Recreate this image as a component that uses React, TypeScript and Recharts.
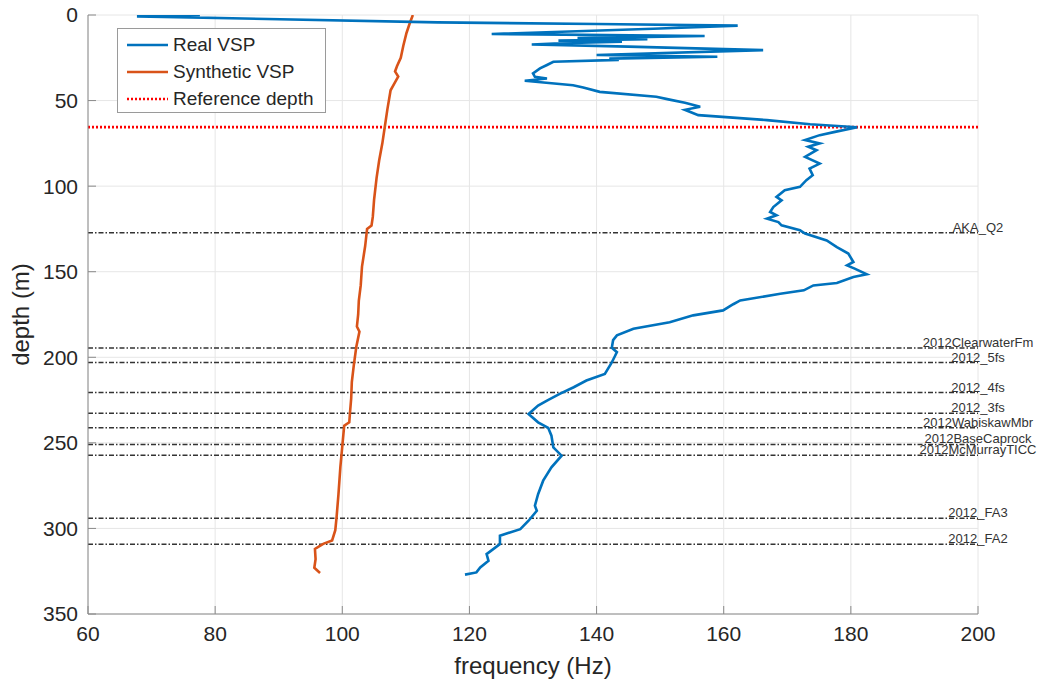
import React from "react";
import { ComposedChart, Scatter, XAxis, YAxis, CartesianGrid, ReferenceLine, Label } from "recharts";

const FONT = '"Liberation Sans", Arial, Helvetica, sans-serif';
const BLUE = "#0072bd";
const ORANGE = "#d95319";
const AXIS = "#8a8a8a";
const TEXT = "#262626";

const freqTicks = [60, 80, 100, 120, 140, 160, 180, 200];
const depthTicks = [0, 50, 100, 150, 200, 250, 300, 350];

// measured VSP dominant frequency vs depth
const realDepth = [
  0, 0.8, 4.3, 5.3, 6.2, 8.0, 11.1, 12.3, 13.5, 14.2, 15.0, 15.6, 16.3, 17.2, 18.5, 20.5, 23.4, 24.4, 25.5,
  26.2, 27.3, 29.2, 31.2, 34.1, 36.1, 37.1, 38.4, 41.0, 42.3, 44.9, 47.8, 49.3, 51.3, 53.6, 55.4, 58.5, 61.4,
  63.8, 65.6, 68.3, 70.2, 73.1, 75.0, 77.0, 79.0, 82.9, 86.8, 89.7, 93.6, 96.5, 100.4, 102.4, 106.3, 108.3,
  112.2, 115.1, 117.0, 119.0, 121.0, 122.9, 125.8, 127.7, 131.7, 135.6, 139.4, 144.3, 146.3, 148.2, 151.5,
  153.1, 156.6, 158.0, 160.9, 162.9, 166.8, 169.0, 172.6, 175.5, 179.5, 183.3, 187.2, 190.0, 194.4, 197.0,
  200.0, 203.0, 209.7, 213.6, 217.5, 221.4, 225.3, 228.2, 233.1, 238.0, 241.3, 245.8, 252.6, 257.5, 264.3,
  272.1, 280.0, 286.7, 289.7, 295.5, 300.4, 304.3, 309.1, 315.0, 318.9, 322.8, 325.7, 327.0,
];
const realFreq = [
  77.6, 67.7, 115.0, 140.0, 162.2, 148.9, 123.5, 157.0, 137.0, 148.0, 134.0, 144.0, 136.0, 129.8, 145.0, 166.2,
  140.0, 159.0, 142.0, 143.5, 133.2, 132.2, 131.1, 130.0, 130.3, 132.2, 128.7, 136.3, 137.9, 140.5, 149.4, 151.3,
  153.9, 156.3, 153.9, 156.0, 166.8, 173.6, 181.0, 177.5, 175.1, 172.8, 175.1, 173.3, 174.6, 172.8, 175.1, 173.5,
  174.0, 173.0, 172.0, 169.6, 168.3, 169.1, 167.8, 167.3, 168.3, 166.8, 168.6, 169.1, 172.0, 172.8, 176.2, 177.8,
  179.6, 180.4, 179.4, 180.6, 182.5, 180.4, 177.8, 174.1, 172.6, 168.9, 162.6, 161.5, 159.9, 155.2, 151.5, 145.8,
  143.2, 142.6, 142.4, 143.2, 142.8, 142.4, 141.3, 138.4, 136.4, 134.2, 132.2, 130.8, 129.3, 130.8, 132.4, 132.9,
  133.2, 134.5, 132.9, 131.6, 130.8, 130.3, 130.6, 129.3, 128.0, 124.8, 124.8, 122.7, 123.0, 121.7, 121.1, 119.3,
];

// synthetic VSP frequency vs depth
const synthDepth = [
  0, 5, 10.5, 18, 25, 30, 33, 36, 40, 44, 55, 65, 75, 85, 95, 108, 118, 123, 125, 135, 147, 158, 167, 175, 182,
  185, 194, 205, 214.5, 224, 233, 238, 240, 252, 264, 280, 293.5, 301, 307, 309, 312, 318, 323, 326,
];
const synthFreq = [
  111.1, 110.6, 110.1, 109.6, 109.2, 108.6, 108.3, 108.8, 108.2, 107.6, 107.1, 106.7, 106.3, 105.8, 105.4, 105.0,
  104.8, 104.6, 103.9, 103.6, 103.1, 102.9, 102.6, 102.5, 102.3, 102.7, 102.2, 101.8, 101.5, 101.4, 101.2, 101.1,
  100.3, 100.0, 99.7, 99.4, 99.1, 98.9, 98.4, 97.0, 95.7, 95.8, 95.6, 96.5,
];

const referenceDepth = 65.5;

const horizonNames = [
  "AKA_Q2", "2012ClearwaterFm", "2012_5fs", "2012_4fs", "2012_3fs",
  "2012WabiskawMbr", "2012BaseCaprock", "2012McMurrayTICC", "2012_FA3", "2012_FA2",
];
const horizonDepths = [127.3, 194.6, 203.1, 220.6, 232.7, 241.1, 250.9, 257.3, 294.0, 309.2];

const toPoints = (depths: number[], freqs: number[]) =>
  depths.map((depth, i) => ({ depth, freq: freqs[i] }));

const realPoints = toPoints(realDepth, realFreq);
const synthPoints = toPoints(synthDepth, synthFreq);

const legendItems = [
  { label: "Real VSP", color: BLUE, dash: undefined as string | undefined, width: 2.6 },
  { label: "Synthetic VSP", color: ORANGE, dash: undefined as string | undefined, width: 2.6 },
  { label: "Reference depth", color: "#ff0000", dash: "2 2", width: 2.6 },
];

const noDot = () => <g />;
const noTick = () => <g />;

const horizonLabel = (name: string) => (props: any) => {
  const vb = props.viewBox || {};
  return (
    <text
      x={vb.x + vb.width}
      y={vb.y - 1}
      textAnchor="middle"
      fontSize={13}
      fontFamily={FONT}
      fill="#333"
    >
      {name}
    </text>
  );
};

export default function App() {
  return (
    <div style={{ position: "absolute", left: 0, top: 0, width: 1039, height: 682, background: "#fff" }}>
      <ComposedChart
        width={1039}
        height={682}
        margin={{ top: 15, right: 61, bottom: 0, left: 0 }}
        style={{ fontFamily: FONT }}
      >
        <CartesianGrid stroke="#e6e6e6" strokeWidth={1} />
        <XAxis
          dataKey="freq"
          type="number"
          domain={[60, 200]}
          ticks={freqTicks}
          height={68}
          stroke={AXIS}
          tickSize={-8}
          tickMargin={20}
          tick={{ fill: TEXT, fontSize: 21, fontFamily: FONT }}
          allowDataOverflow
        >
          <Label
            content={(p: any) => {
              const vb = p.viewBox;
              return (
                <text x={vb.x + vb.width / 2} y={vb.y + vb.height - 8} textAnchor="middle" fontSize={24} fontFamily={FONT} fill={TEXT}>
                  frequency (Hz)
                </text>
              );
            }}
          />
        </XAxis>
        <XAxis
          xAxisId="top"
          orientation="top"
          dataKey="freq"
          type="number"
          domain={[60, 200]}
          ticks={freqTicks}
          height={0}
          stroke={AXIS}
          tickSize={-8}
          tick={noTick}
          allowDataOverflow
        />
        <YAxis
          dataKey="depth"
          type="number"
          domain={[0, 350]}
          ticks={depthTicks}
          reversed
          width={88}
          stroke={AXIS}
          tickSize={-8}
          tickMargin={18}
          tick={{ fill: TEXT, fontSize: 21, fontFamily: FONT }}
          allowDataOverflow
        >
          <Label
            content={(p: any) => {
              const vb = p.viewBox;
              const cx = vb.x + 29;
              const cy = vb.y + vb.height / 2;
              return (
                <text x={cx} y={cy} transform={`rotate(-90 ${cx} ${cy})`} textAnchor="middle" fontSize={24} fontFamily={FONT} fill={TEXT}>
                  depth (m)
                </text>
              );
            }}
          />
        </YAxis>
        <YAxis
          yAxisId="right"
          orientation="right"
          dataKey="depth"
          type="number"
          domain={[0, 350]}
          ticks={depthTicks}
          reversed
          width={0}
          stroke={AXIS}
          tickSize={-8}
          tick={noTick}
          allowDataOverflow
        />

        {horizonDepths.map((d, i) => (
          <ReferenceLine
            key={horizonNames[i]}
            y={d}
            stroke="#333"
            strokeWidth={1.5}
            strokeDasharray="5 2 1.5 2"
            label={horizonLabel(horizonNames[i])}
          />
        ))}

        <Scatter
          name="Synthetic VSP"
          data={synthPoints}
          fill={ORANGE}
          line={{ stroke: ORANGE, strokeWidth: 2.6 }}
          shape={noDot}
          isAnimationActive={false}
        />
        <Scatter
          name="Real VSP"
          data={realPoints}
          fill={BLUE}
          line={{ stroke: BLUE, strokeWidth: 2.6 }}
          shape={noDot}
          isAnimationActive={false}
        />

        <ReferenceLine y={referenceDepth} stroke="#ff0000" strokeWidth={2.6} strokeDasharray="2 2" />
      </ComposedChart>

      <div
        style={{
          position: "absolute",
          left: 117,
          top: 28,
          width: 209,
          height: 85,
          boxSizing: "border-box",
          border: "1px solid #9a9a9a",
          background: "#fff",
          paddingTop: 3,
          fontFamily: FONT,
        }}
      >
        {legendItems.map((item) => (
          <div key={item.label} style={{ display: "flex", alignItems: "center", height: 26.7 }}>
            <svg width={50} height={10} style={{ display: "block" }}>
              <line x1={9} x2={50} y1={5} y2={5} stroke={item.color} strokeWidth={item.width} strokeDasharray={item.dash} />
            </svg>
            <span style={{ marginLeft: 5, fontSize: 19, color: TEXT, whiteSpace: "nowrap" }}>{item.label}</span>
          </div>
        ))}
      </div>
    </div>
  );
}
